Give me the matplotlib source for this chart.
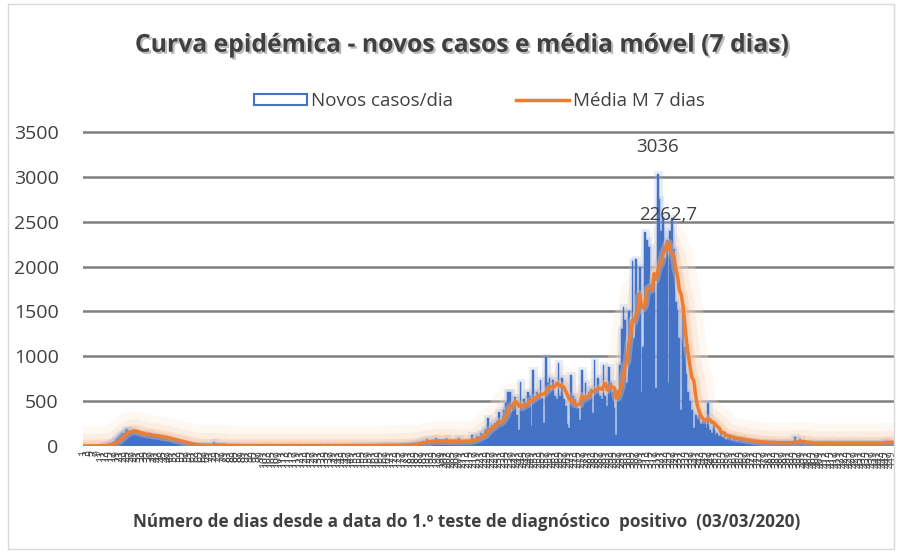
import numpy as np
import pandas as pd
import matplotlib
matplotlib.use("Agg")
import matplotlib.pyplot as plt
import matplotlib.patheffects as pe
from matplotlib.patches import Patch, Rectangle
from matplotlib.lines import Line2D

# novos casos por dia desde 03/03/2020, 10 dias por linha
novos_casos = [
    0, 0, 0, 1, 2, 0, 3, 2, 5, 4,                                # 0
    5, 8, 10, 15, 20, 30, 45, 60, 80, 100,                       # 10
    120, 140, 150, 175, 195, 170, 140, 180, 160, 140,            # 20
    130, 145, 120, 135, 110, 125, 140, 115, 100, 120,            # 30
    95, 105, 110, 85, 100, 80, 90, 70, 75, 60,                   # 40
    55, 65, 45, 50, 40, 35, 30, 25, 20, 15,                      # 50
    12, 10, 15, 8, 10, 6, 12, 8, 5, 10,                          # 60
    6, 8, 40, 10, 5, 8, 6, 4, 7, 5,                              # 70
    6, 3, 5, 8, 4, 2, 6, 3, 5, 4,                                # 80
    2, 6, 3, 8, 4, 2, 5, 3, 4, 6,                                # 90
    2, 3, 7, 4, 2, 5, 3, 4, 6, 2,                                # 100
    3, 5, 4, 8, 3, 2, 5, 4, 6, 3,                                # 110
    2, 4, 5, 3, 6, 2, 4, 5, 3, 7,                                # 120
    4, 2, 5, 6, 3, 4, 2, 8, 5, 3,                                # 130
    4, 6, 5, 3, 2, 7, 4, 5, 3, 6,                                # 140
    4, 8, 5, 3, 6, 4, 7, 5, 3, 9,                                # 150
    6, 4, 8, 5, 10, 6, 7, 12, 8, 6,                              # 160
    10, 7, 5, 8, 12, 15, 8, 12, 15, 10,                          # 170
    20, 25, 18, 30, 22, 35, 40, 30, 55, 45,                      # 180
    78, 50, 40, 60, 55, 85, 45, 50, 60, 40,                      # 190
    55, 90, 45, 50, 38, 60, 55, 40, 88, 50,                      # 200
    42, 45, 60, 48, 52, 120, 70, 85, 110, 95,                    # 210
    140, 130, 170, 190, 310, 200, 230, 220, 260, 280,            # 220
    380, 240, 330, 400, 480, 600, 600, 380, 450, 546,            # 230
    350, 180, 713, 420, 520, 480, 600, 560, 220, 847,            # 240
    520, 600, 560, 735, 540, 260, 992, 700, 758, 620,            # 250
    740, 560, 520, 925, 560, 758, 520, 450, 250, 200,            # 260
    790, 560, 520, 480, 420, 290, 847, 560, 700, 520,            # 270
    600, 640, 367, 958, 620, 758, 560, 520, 900, 560,            # 280
    450, 880, 700, 600, 420, 120, 625, 900, 1300, 1550,          # 290
    1400, 700, 1500, 1300, 2060, 1200, 2080, 1700, 2000, 600,    # 300
    1100, 2386, 2300, 2220, 1800, 1800, 1844, 650, 3036, 2750,   # 310
    2400, 2550, 2100, 2300, 703, 2400, 2540, 2200, 1600, 1516,   # 320
    1200, 400, 1516, 1100, 800, 600, 500, 400, 200, 350,         # 330
    300, 350, 250, 280, 300, 200, 480, 180, 150, 256,            # 340
    120, 140, 110, 160, 100, 120, 80, 90, 110, 70,               # 350
    100, 85, 60, 75, 90, 55, 70, 50, 65, 45,                     # 360
    60, 40, 55, 50, 35, 45, 40, 50, 38, 42,                      # 370
    30, 45, 36, 28, 40, 35, 44, 30, 38, 42,                      # 380
    35, 40, 32, 36, 100, 28, 40, 80, 34, 30,                     # 390
    26, 38, 32, 40, 30, 25, 34, 38, 28, 36,                      # 400
    30, 42, 34, 28, 32, 38, 30, 26, 34, 40,                      # 410
    30, 36, 28, 32, 38, 30, 28, 36, 30, 45,                      # 420
    32, 28, 36, 30, 34, 26, 38, 30, 28, 35,                      # 430
    30, 32, 28, 50, 48, 55, 40, 35, 30, 28,                      # 440
]

dias = np.arange(1, len(novos_casos) + 1)
media_movel = pd.Series(novos_casos).rolling(7, min_periods=1).mean()

azul = "#4472C4"
laranja = "#ED7D31"
texto = "#404040"

plt.rcParams["font.family"] = ["Open Sans", "DejaVu Sans"]

fig = plt.figure(figsize=(9.01, 5.52), dpi=100)
ax = fig.add_axes([83 / 901, 106 / 552, 812 / 901, 318.5 / 552])

# moldura do grafico
fig.patches.append(Rectangle((8 / 901, 3 / 552), 886 / 901, 545 / 552, transform=fig.transFigure,
                             fill=False, edgecolor="#d9d9d9", linewidth=1))

x = np.arange(len(novos_casos))

# brilho da media movel (por baixo das barras)
ax.plot(x, media_movel, color=laranja, linewidth=0, zorder=1.5,
        path_effects=[pe.Stroke(linewidth=28, foreground="#fce9da", alpha=0.3),
                      pe.Stroke(linewidth=17, foreground="#f9d6bb", alpha=0.3),
                      pe.Stroke(linewidth=9, foreground="#f5bd93", alpha=0.35)])

# brilho das barras
ax.bar(x, novos_casos, width=1.0, color="#9db8ea", edgecolor="#9db8ea", linewidth=5,
       alpha=0.25, zorder=1.8)
ax.bar(x, novos_casos, width=1.0, color=azul, edgecolor=azul, linewidth=0.3, zorder=2)

ax.plot(x, media_movel, color=laranja, linewidth=2.5, zorder=3,
        path_effects=[pe.Stroke(linewidth=6, foreground="#f8cba9", alpha=0.35), pe.Normal()])

ax.set_xlim(-0.5, len(novos_casos) - 0.5)
ax.set_ylim(0, 3550)
ax.set_yticks(np.arange(0, 3501, 500))
ax.yaxis.grid(True, color="#7f7f7f", linewidth=1.8, zorder=0)
ax.set_axisbelow(True)
for s in ax.spines.values():
    s.set_visible(False)
ax.tick_params(axis="y", length=0, pad=17.5, labelsize=14, labelcolor=texto)
ax.set_xticks(x[::2])
ax.set_xticklabels([str(d) for d in dias[::2]], rotation=90, fontsize=7.5, color=texto)
ax.tick_params(axis="x", length=0, pad=3)

# rotulos dos maximos
i_max = int(np.argmax(novos_casos))
ax.annotate(str(novos_casos[i_max]), (i_max, novos_casos[i_max]), xytext=(0, 13),
            textcoords="offset points", ha="center", va="bottom", fontsize=13.5, color=texto)
j_max = int(np.argmax(media_movel))
rotulo_mm = f"{media_movel[j_max]:.1f}".replace(".", ",")
ax.annotate(rotulo_mm, (j_max, media_movel[j_max]), xytext=(0, 14),
            textcoords="offset points", ha="center", va="bottom", fontsize=13.5, color=texto)

fig.text(0.513, 0.918, "Curva epidémica - novos casos e média móvel (7 dias)",
         ha="center", va="center", fontsize=17.8, fontweight="bold", color=texto,
         path_effects=[pe.SimplePatchShadow(offset=(1.5, -1.5), shadow_rgbFace="#909090", alpha=0.6),
                       pe.Normal()])

handles = [Patch(facecolor="white", edgecolor=azul, linewidth=1.5),
           Line2D([0], [0], color=laranja, linewidth=2.5)]
fig.legend(handles, ["Novos casos/dia", "Média M 7 dias"], loc="center", ncol=2,
           bbox_to_anchor=(0.532, 0.817), frameon=False, fontsize=13.5, labelcolor=texto,
           handlelength=2.8, handleheight=0.55, handletextpad=0.2, columnspacing=3.4)

fig.text(0.518, 0.054, "Número de dias desde a data do 1.º teste de diagnóstico  positivo  (03/03/2020)",
         ha="center", va="center", fontsize=12.3, fontweight="bold", color=texto)

fig.savefig("out.png", dpi=100)
